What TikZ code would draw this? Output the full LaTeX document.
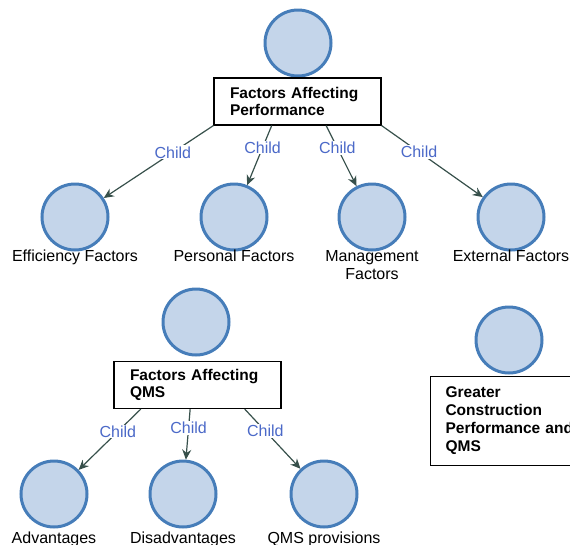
\documentclass[tikz,border=0pt]{standalone}
\usepackage{fontspec}
\setmainfont{Liberation Sans}
\usetikzlibrary{arrows.meta}
\definecolor{ringblue}{RGB}{70,125,185}
\definecolor{ballfill}{RGB}{196,213,234}
\definecolor{linkgray}{RGB}{55,80,75}
\definecolor{childblue}{RGB}{75,105,200}

\begin{document}
\begin{tikzpicture}[x=1pt, y=-1pt,
    ball/.style={draw=ringblue, fill=ballfill, line width=3pt, circle, minimum size=66pt, inner sep=0pt},
    box/.style={draw, fill=white, line width=1.1pt, align=left, inner xsep=16pt, text width=135pt, minimum height=47pt,
        font=\bfseries\fontsize{15.5}{17}\selectfont},
    lbl/.style={anchor=base, align=center, inner sep=0pt, font=\fontsize{16}{18}\selectfont},
    kid/.style={pos=.37, fill=white, inner sep=1pt, text=childblue, font=\fontsize{16}{18}\selectfont},
    link/.style={draw=linkgray, line width=1.2pt, -{Stealth[length=10pt,width=9pt]}}]
            \useasboundingbox (0,0) rectangle (570,544);
            \clip (0,0) rectangle (570,544);

            % performance tree
            \draw (298,43) node[ball] (top) {};
            \draw (297.5,101.5) node[box] (perf) {Factors Affecting\\Performance};
            \draw (75,217) node[ball] (eff) {};
            \draw (234,217) node[ball] (pers) {};
            \draw (372,217) node[ball] (mgmt) {};
            \draw (511,217) node[ball] (ext) {};
            \draw (75,261) node[lbl] (efftxt) {Efficiency Factors};
            \draw (234,261) node[lbl] (perstxt) {Personal Factors};
            \draw (372,279) node[lbl] (mgmttxt) {Management\\Factors};
            \draw (511,261) node[lbl] (exttxt) {External Factors};

            \draw[link] (perf.south west) -- node[kid] {Child} (eff);
            \draw[link] (perf.-137) -- node[kid] {Child} (pers);
            \draw[link] (perf.-40) -- node[kid] {Child} (mgmt);
            \draw[link] (perf.south east) -- node[kid] {Child} (ext);

            % QMS tree
            \draw (196,322) node[ball] (qtop) {};
            \draw (197.5,385) node[box] (qms) {Factors Affecting\\QMS};
            \draw (54,494) node[ball] (adv) {};
            \draw (183,494) node[ball] (dis) {};
            \draw (324,494) node[ball] (prov) {};
            \draw (54,543) node[lbl] (advtxt) {Advantages};
            \draw (183,543) node[lbl] (distxt) {Disadvantages};
            \draw (324,543) node[lbl] (provtxt) {QMS provisions};

            \draw[link] (qms.-157) -- node[kid] {Child} (adv);
            \draw[link] (qms.-107) -- node[kid] {Child} (dis);
            \draw[link] (qms.-27) -- node[kid] {Child} (prov);

            % single node
            \draw (509,340) node[ball] (gtop) {};
            \draw (430,376) node[box, anchor=north west, text width=150pt, inner xsep=15pt, minimum height=89pt,
                font=\bfseries\fontsize{15.5}{18}\selectfont] (greater)
                {Greater\\Construction\\Performance and\\QMS};
        \end{tikzpicture}
\end{document}
